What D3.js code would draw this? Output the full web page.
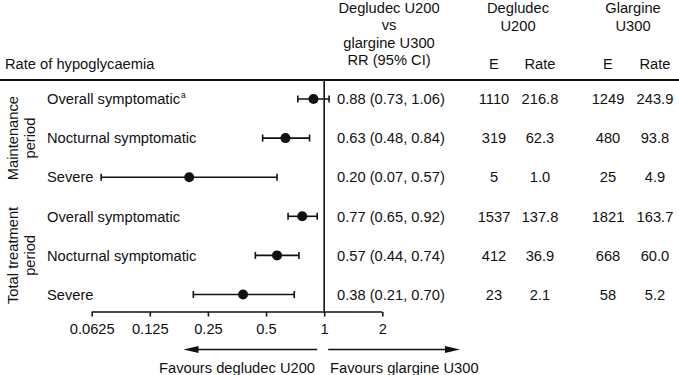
<!DOCTYPE html>
<html>
<head>
<meta charset="utf-8">
<script src="https://cdn.jsdelivr.net/npm/d3@7"></script>
<style>
  html, body { margin: 0; padding: 0; background: #fff; }
  svg { display: block; }
  text { font-family: "Liberation Sans", Arial, Helvetica, sans-serif; fill: #111; }
</style>
</head>
<body>
<script>
// ---------------- data ----------------
const groups = ["Maintenance period", "Total treatment period"];
const rowLabels = ["Overall symptomatic", "Nocturnal symptomatic", "Severe",
                   "Overall symptomatic", "Nocturnal symptomatic", "Severe"];
const rowSuperscript = ["a", "", "", "", "", ""];
const rowGroup = [0, 0, 0, 1, 1, 1];
const rr   = [0.88, 0.63, 0.20, 0.77, 0.57, 0.38];
const rrLo = [0.73, 0.48, 0.07, 0.65, 0.44, 0.21];
const rrHi = [1.06, 0.84, 0.57, 0.92, 0.74, 0.70];
const degE    = ["1110", "319", "5", "1537", "412", "23"];
const degRate = ["216.8", "62.3", "1.0", "137.8", "36.9", "2.1"];
const glaE    = ["1249", "480", "25", "1821", "668", "58"];
const glaRate = ["243.9", "93.8", "4.9", "163.7", "60.0", "5.2"];
const tickValues = [0.0625, 0.125, 0.25, 0.5, 1, 2];
const tickLabels = ["0.0625", "0.125", "0.25", "0.5", "1", "2"];
const favoursLeft = "Favours degludec U200";
const favoursRight = "Favours glargine U300";

// ---------------- layout ----------------
const W = 679, H = 375, FS = 14.7;
const svg = d3.select("body").append("svg").attr("width", W).attr("height", H);

const x = d3.scaleLog().base(2).domain([0.0625, 2]).range([91.7, 382.3]);
const y = d3.scalePoint().domain(d3.range(rowLabels.length)).range([99, 294.5]);
const axisY = 312;
const headerLineY = 80;

const fmt = v => v.toFixed(2);

// header texts
const hdr = svg.append("g").attr("font-size", FS).attr("text-anchor", "middle");
const rrHeader = ["Degludec U200", "vs", "glargine U300", "RR (95% CI)"];
rrHeader.forEach((t, i) => hdr.append("text").attr("x", 389).attr("y", 13 + i * 17.4).text(t));
[["Degludec", 518], ["Glargine", 633]].forEach(([t, cx]) => hdr.append("text").attr("x", cx).attr("y", 13).text(t));
[["U200", 518], ["U300", 633]].forEach(([t, cx]) => hdr.append("text").attr("x", cx).attr("y", 30.5).text(t));
const colE1 = 494, colR1 = 540, colE2 = 608, colR2 = 655;
[["E", colE1], ["Rate", colR1], ["E", colE2], ["Rate", colR2]].forEach(([t, cx]) =>
  hdr.append("text").attr("x", cx).attr("y", 69).text(t));
svg.append("text").attr("x", 5).attr("y", 69).attr("font-size", FS).text("Rate of hypoglycaemia");

// header rule
svg.append("line").attr("x1", 0).attr("x2", W).attr("y1", headerLineY).attr("y2", headerLineY)
  .attr("stroke", "#111").attr("stroke-width", 2);

// line of no effect
svg.append("line").attr("x1", x(1)).attr("x2", x(1)).attr("y1", headerLineY).attr("y2", axisY)
  .attr("stroke", "#111").attr("stroke-width", 1.6);

// group labels (rotated)
groups.forEach((g, gi) => {
  const idx = d3.range(rowLabels.length).filter(i => rowGroup[i] === gi);
  const cy = (y(idx[0]) + y(idx[idx.length - 1])) / 2;
  const words = g.split(" ");
  const line1 = words.slice(0, -1).join(" "), line2 = words[words.length - 1];
  const t = svg.append("text").attr("font-size", FS).attr("text-anchor", "middle")
    .attr("transform", `translate(0,${cy}) rotate(-90)`);
  t.append("tspan").attr("x", 0).attr("y", 18).text(line1);
  t.append("tspan").attr("x", 0).attr("y", 35).text(line2);
});

// rows
const rows = svg.append("g").selectAll("g").data(d3.range(rowLabels.length)).join("g");
rows.each(function(i) {
  const g = d3.select(this);
  const cy = y(i);
  const lab = g.append("text").attr("x", 47).attr("y", cy).attr("dy", "0.36em").attr("font-size", FS).text(rowLabels[i]);
  if (rowSuperscript[i]) lab.append("tspan").attr("font-size", 8.5).attr("dy", "-0.75em").attr("dx", 1).text(rowSuperscript[i]);
  // CI
  g.append("line").attr("x1", x(rrLo[i])).attr("x2", x(rrHi[i])).attr("y1", cy).attr("y2", cy)
    .attr("stroke", "#111").attr("stroke-width", 1.6);
  [rrLo[i], rrHi[i]].forEach(v => g.append("line").attr("x1", x(v)).attr("x2", x(v))
    .attr("y1", cy - 3.5).attr("y2", cy + 3.5).attr("stroke", "#111").attr("stroke-width", 1.6));
  g.append("circle").attr("cx", x(rr[i])).attr("cy", cy).attr("r", 5).attr("fill", "#111");
  // table texts
  g.append("text").attr("x", 337).attr("y", cy).attr("dy", "0.36em").attr("font-size", FS)
    .text(`${fmt(rr[i])} (${fmt(rrLo[i])}, ${fmt(rrHi[i])})`);
  [[degE[i], colE1], [degRate[i], colR1], [glaE[i], colE2], [glaRate[i], colR2]].forEach(([t, cx]) =>
    g.append("text").attr("x", cx).attr("y", cy).attr("dy", "0.36em").attr("font-size", FS)
      .attr("text-anchor", "middle").text(t));
});

// x axis
const axis = d3.axisBottom(x).tickValues(tickValues)
  .tickFormat((d, i) => tickLabels[i]).tickSize(4.5).tickPadding(7);
const ax = svg.append("g").attr("transform", `translate(0,${axisY})`).call(axis);
ax.select(".domain").attr("stroke", "#111").attr("stroke-width", 1.6).attr("d", `M${x(0.0625)},0H${x(2)}`);
ax.selectAll(".tick line").attr("stroke", "#111").attr("stroke-width", 1.6);
ax.selectAll(".tick text").attr("font-size", FS).attr("font-family", null).attr("fill", "#111");

// arrows
const arrowY = 349.5;
function arrow(x1, x2) {
  const dir = Math.sign(x2 - x1), headLen = 15, hw = 3.6;
  svg.append("line").attr("x1", x1).attr("x2", x2 - dir * headLen + dir * 1).attr("y1", arrowY).attr("y2", arrowY)
    .attr("stroke", "#111").attr("stroke-width", 1.6);
  svg.append("path").attr("d", `M${x2},${arrowY}L${x2 - dir * headLen},${arrowY - hw}L${x2 - dir * headLen},${arrowY + hw}Z`)
    .attr("fill", "#111");
}
arrow(x(1) - 7, 183.5);
arrow(x(1) + 4, 460);
svg.append("text").attr("x", 315).attr("y", 373).attr("font-size", FS).attr("text-anchor", "end").text(favoursLeft);
svg.append("text").attr("x", 330).attr("y", 373).attr("font-size", FS).text(favoursRight);
</script>
</body>
</html>
